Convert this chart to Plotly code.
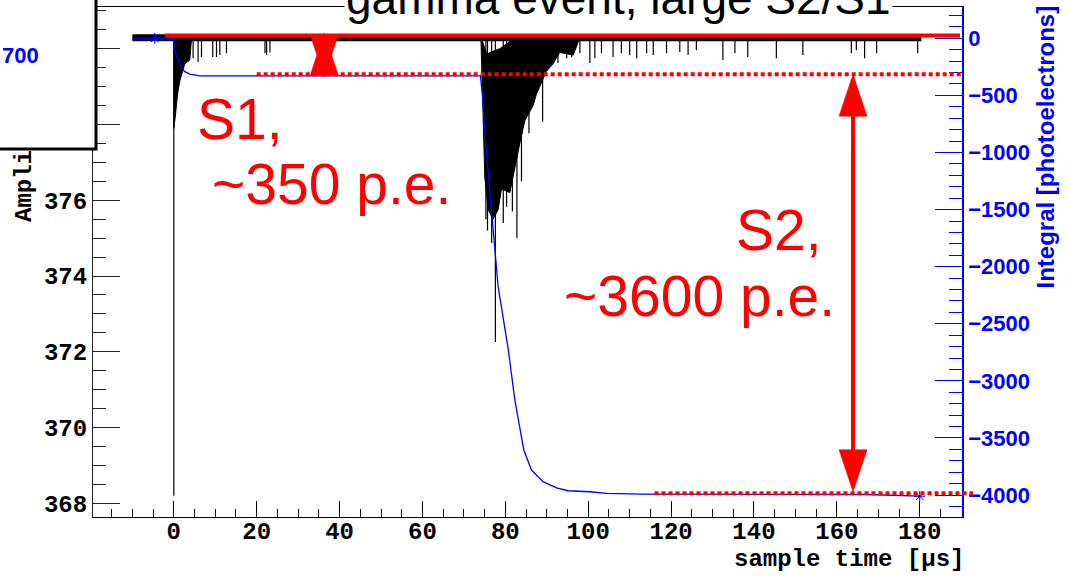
import plotly.graph_objects as go

# ---------------- data ----------------
# sample time axis [us], amplitude axis [ADC], integral axis [p.e.]
x_tickvals = [0, 20, 40, 60, 80, 100, 120, 140, 160, 180]
y_tickvals = [368, 370, 372, 374, 376, 378, 380]
y2_tickvals = [-4000, -3500, -3000, -2500, -2000, -1500, -1000, -500, 0]

# waveform baseline (noise band)
wave_band_t = [-10.0, 180.4]
wave_baseline = 380.29

# S1 dense part: lower envelope of the waveform
s1_env_t = [0.0, 0.4, 0.9, 1.45, 2.65, 3.85, 4.3]
s1_env_amp = [377.9, 378.25, 378.8, 379.15, 379.6, 379.7, 380.3]

# S2 dense part: upper and lower envelopes
s2_up_t = [74.1, 74.8, 75.5, 76.7, 78.7, 80.6, 82.0, 98.0]
s2_up_amp = [380.33, 380.1, 379.85, 379.92, 380.0, 380.15, 380.28, 380.3]
s2_low_t = [74.1, 74.3, 75.05, 75.85, 77.05, 78.26, 79.08, 81.08, 81.88, 83.5,
            84.7, 86.7, 87.5, 89.9, 91.5, 93.1, 96.4, 98.0]
s2_low_amp = [380.3, 379.17, 376.6, 375.75, 375.5, 375.75, 376.3, 376.2, 376.6, 377.5,
              378.1, 378.5, 378.8, 379.4, 379.6, 379.9, 379.83, 380.3]

# individual spikes (time, minimum amplitude)
spike_t = [0.0, 4.66, 5.86, 6.68, 9.4, 10.3, 11.1, 12.7, 22.0, 22.4, 23.2,
           75.3, 75.7, 76.7, 77.6, 79.5, 80.3, 81.7, 82.8, 83.9, 85.7, 89.0,
           90.7, 92.7, 94.8, 96.0, 98.0, 100.4, 101.6, 103.2, 106.0, 108.0, 110.0,
           111.7, 114.1, 115.7, 118.9, 122.1, 124.1, 126.1, 132.5, 135.4, 138.5,
           145.4, 151.8, 163.5, 164.7, 166.7, 169.6, 179.5]
spike_amp = [368.2, 379.75, 379.65, 379.78, 379.78, 379.78, 379.83, 379.88, 379.88, 379.83, 379.9,
             375.5, 375.2, 374.87, 372.26, 375.4, 375.83, 375.7, 375.0, 376.5, 377.77, 378.07,
             379.52, 379.62, 379.75, 379.78, 379.88, 379.62, 379.75, 379.88, 379.78, 379.88, 379.83,
             379.75, 379.88, 379.83, 379.88, 379.91, 379.83, 379.96, 379.70, 379.88, 379.78,
             379.75, 379.83, 379.88, 379.96, 379.75, 379.88, 379.88]

# running integral [photoelectrons]
int_t = [-10.0, 0.0, 0.1, 0.65, 1.28, 1.86, 2.65, 3.86, 6.27, 74.0, 74.5, 75.46, 77.05,
         78.26, 80.67, 82.3, 84.46, 86.3, 89.1, 92.35, 95.15, 100.4, 104.4, 113.2, 167.2, 180.0]
int_pe = [0, 0, -90, -161, -219, -263, -292, -313, -330, -330, -511, -1007, -1650,
          -2175, -2715, -3168, -3606, -3781, -3883, -3936, -3962, -3971, -3985, -3991, -3995, -4010]
star_t = [-4.6, 180.0]
star_pe = [0, -4010]

# annotation levels
baseline_pe = 25
s1_level_pe = -315
s2_level_pe = -3985
s1_arrow = dict(t=36.3, top=46, bottom=-339)
s2_arrow = dict(t=163.9, top=-315, bottom=-3971)

# ---------------- geometry ----------------
W, H = 1070, 581
ML, MR, MT, MB = 93, 108, 7, 64
PW, PH = W - ML - MR, H - MT - MB
XR = [-19.5, 190.2]
YR = [367.64, 381.1]
Y2R = [-4192, 274]

def px_x(t):
    return (t - XR[0]) / (XR[1] - XR[0])

def py_y2(v):
    return (v - Y2R[0]) / (Y2R[1] - Y2R[0])

def pxp(px):  # pixel x -> paper
    return (px - ML) / PW

def pyp(py):  # pixel y -> paper
    return 1 - (py - MT) / PH

RED = "#ff0000"
BLUE = "#0000ff"
MONO = "Liberation Mono"
SANS = "Liberation Sans"

fig = go.Figure()

# noise band
fig.add_trace(go.Scatter(x=wave_band_t, y=[wave_baseline] * len(wave_band_t), mode="lines",
                         line=dict(color="black", width=7), hoverinfo="skip", showlegend=False))
# S1 dense
fig.add_trace(go.Scatter(x=[s1_env_t[0]] + s1_env_t + [s1_env_t[-1]],
                         y=[wave_baseline] + s1_env_amp + [wave_baseline],
                         fill="toself", fillcolor="black", mode="lines",
                         line=dict(color="black", width=1), showlegend=False, hoverinfo="skip"))
# S2 dense
fig.add_trace(go.Scatter(x=s2_up_t + s2_low_t[::-1], y=s2_up_amp + s2_low_amp[::-1],
                         fill="toself", fillcolor="black", mode="lines",
                         line=dict(color="black", width=1), showlegend=False, hoverinfo="skip"))
# spikes
sx, sy = [], []
for t, a in zip(spike_t, spike_amp):
    sx += [t, t, None]
    sy += [wave_baseline, a, None]
fig.add_trace(go.Scatter(x=sx, y=sy, mode="lines", line=dict(color="black", width=1.2),
                         showlegend=False, hoverinfo="skip", connectgaps=False))

# integral
fig.add_trace(go.Scatter(x=int_t, y=int_pe, mode="lines", yaxis="y2",
                         line=dict(color=BLUE, width=1.3), showlegend=False))
fig.add_trace(go.Scatter(x=star_t, y=star_pe, mode="markers", yaxis="y2",
                         marker=dict(symbol="asterisk-open", size=9, color=BLUE,
                                     line=dict(color=BLUE, width=1)), showlegend=False))

shapes = []
# red baseline line
shapes.append(dict(type="line", xref="paper", yref="paper",
                   x0=px_x(-2.2), x1=pxp(960), y0=py_y2(baseline_pe), y1=py_y2(baseline_pe),
                   line=dict(color=RED, width=4), layer="above"))
# dotted S1 level
shapes.append(dict(type="line", xref="paper", yref="paper",
                   x0=px_x(20), x1=pxp(961), y0=py_y2(s1_level_pe), y1=py_y2(s1_level_pe),
                   line=dict(color=RED, width=4, dash="4px,3px"), layer="above"))
# dotted S2 level
shapes.append(dict(type="line", xref="paper", yref="paper",
                   x0=px_x(116), x1=pxp(973), y0=py_y2(s2_level_pe), y1=py_y2(s2_level_pe),
                   line=dict(color=RED, width=4, dash="4px,3px"), layer="above"))

HEAD_H = 42 / PH   # paper units
HEAD_HW = 14 / PW

def arrow(spec, draw_line=True):
    xc = px_x(spec["t"])
    yt = py_y2(spec["top"])
    yb = py_y2(spec["bottom"])
    out = []
    if draw_line:
        out.append(dict(type="line", xref="paper", yref="paper", x0=xc, x1=xc,
                        y0=yt - HEAD_H * 0.5, y1=yb + HEAD_H * 0.5,
                        line=dict(color=RED, width=4), layer="above"))
    up = f"M {xc},{yt} L {xc - HEAD_HW},{yt - HEAD_H} L {xc + HEAD_HW},{yt - HEAD_H} Z"
    dn = f"M {xc},{yb} L {xc - HEAD_HW},{yb + HEAD_H} L {xc + HEAD_HW},{yb + HEAD_H} Z"
    for p in (up, dn):
        out.append(dict(type="path", xref="paper", yref="paper", path=p,
                        fillcolor=RED, line=dict(color=RED, width=0.5), layer="above"))
    return out

shapes += arrow(s1_arrow, draw_line=False)
shapes += arrow(s2_arrow)

# top-left box (another pad overlapping)
shapes.append(dict(type="rect", xref="paper", yref="paper",
                   x0=pxp(-20), x1=pxp(96), y0=pyp(149), y1=pyp(-20),
                   fillcolor="white", line=dict(color="black", width=3), layer="above"))

annotations = []
def ann(text, x, y, size, color, family, xanchor="center", yanchor="middle", bold=False,
        angle=0, bg=None):
    d = dict(text=text, x=x, y=y, xref="paper", yref="paper", showarrow=False,
             xanchor=xanchor, yanchor=yanchor, textangle=angle,
             font=dict(size=size, color=color, family=family, weight="bold" if bold else "normal"))
    if bg:
        d["bgcolor"] = bg
    annotations.append(d)

ann("gamma event, large S2/S1", pxp(618), pyp(-2), 46, "black", SANS, bg="white")
ann("S1,", pxp(195), pyp(118.5), 57, RED, SANS, xanchor="left")
ann("~350 p.e.", pxp(210), pyp(183.5), 57, RED, SANS, xanchor="left")
ann("S2,", pxp(734), pyp(230), 57, RED, SANS, xanchor="left")
ann("~3600 p.e.", pxp(562), pyp(296), 57, RED, SANS, xanchor="left")
ann("700", pxp(41), pyp(55), 22, BLUE, SANS, xanchor="right", bold=True)
ann("Ampli", pxp(24), pyp(224), 24, "black", MONO, yanchor="bottom", bold=True, angle=-90)
ann("Integral [photoelectrons]", pxp(1045), pyp(4), 24, BLUE, SANS, yanchor="top", bold=True, angle=-90)
ann("sample time [\u03bcs]", pxp(966), pyp(559), 24, "black", MONO, xanchor="right", bold=True)

fig.update_layout(
    width=W, height=H, autosize=False,
    margin=dict(l=ML, r=MR, t=MT, b=MB, pad=0),
    paper_bgcolor="white", plot_bgcolor="white",
    shapes=shapes, annotations=annotations, showlegend=False,
    xaxis=dict(range=XR, showgrid=False, zeroline=False, showline=True, linecolor="black",
               linewidth=1, mirror=True, ticks="inside", ticklen=16, tickcolor="black",
               tickmode="linear", tick0=x_tickvals[0], dtick=x_tickvals[1] - x_tickvals[0],
               ticklabelstandoff=-8,
               minor=dict(ticks="inside", ticklen=8, tickcolor="black", tickmode="linear",
                          tick0=0, dtick=5, showgrid=False),
               tickfont=dict(family=MONO, size=24, color="black", weight="bold")),
    yaxis=dict(range=YR, showgrid=False, zeroline=False, showline=True, linecolor="#222",
               linewidth=1, ticks="inside", ticklen=27, tickcolor="#222",
               tickmode="linear", tick0=y_tickvals[0], dtick=y_tickvals[1] - y_tickvals[0],
               minor=dict(ticks="inside", ticklen=13, tickcolor="#222", tickmode="linear",
                          tick0=368, dtick=0.5, showgrid=False),
               tickfont=dict(family=MONO, size=24, color="black", weight="bold")),
    yaxis2=dict(range=Y2R, overlaying="y", side="right", showgrid=False, zeroline=False,
                showline=True, linecolor=BLUE, linewidth=1.5, ticks="inside", ticklen=27,
                tickcolor=BLUE, tickmode="linear", tick0=0,
                dtick=y2_tickvals[1] - y2_tickvals[0],
                minor=dict(ticks="inside", ticklen=13, tickcolor=BLUE, tickmode="linear",
                           tick0=0, dtick=100, showgrid=False),
                tickfont=dict(family=SANS, size=22, color=BLUE, weight="bold")),
)

fig.write_html("out.html")
